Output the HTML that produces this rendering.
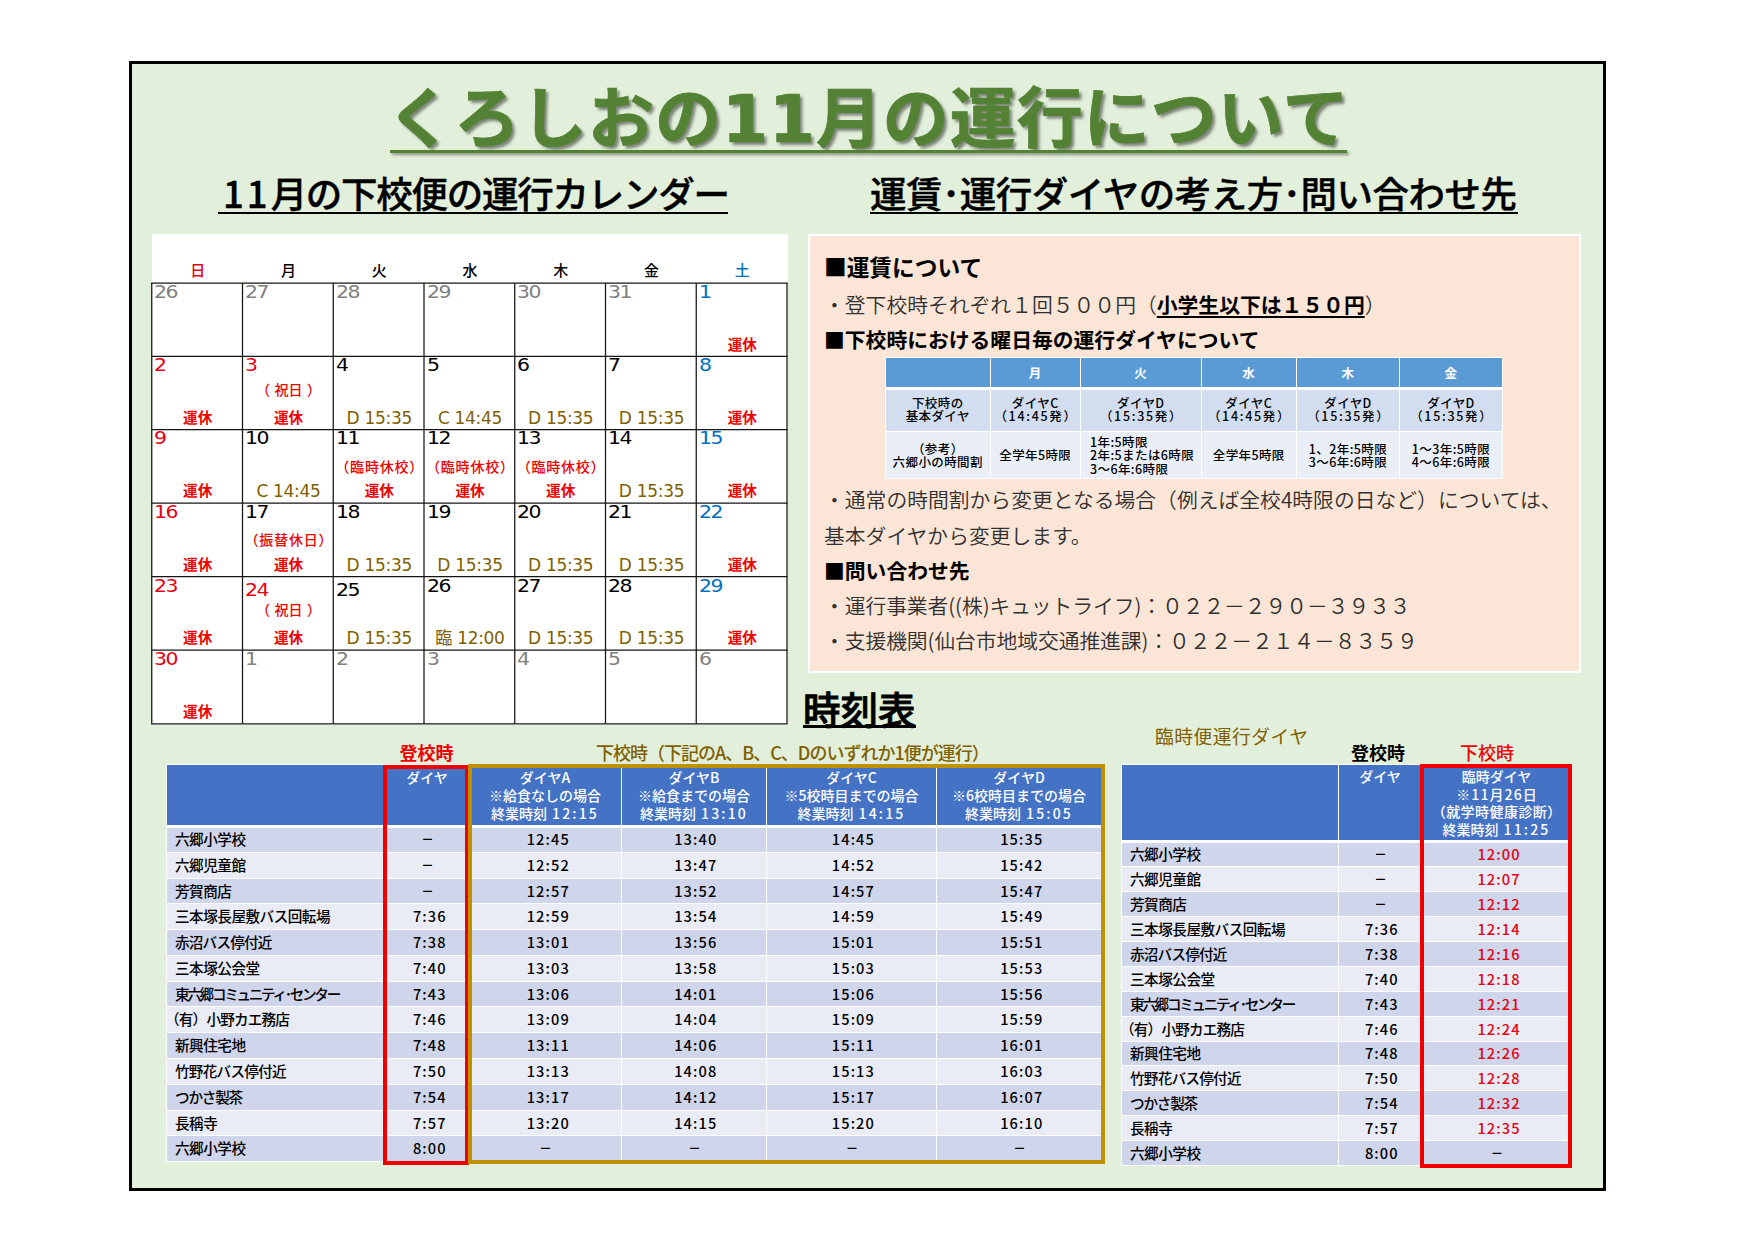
<!DOCTYPE html>
<html lang="ja"><head><meta charset="utf-8"><title>くろしおの11月の運行について</title>
<style>
*{box-sizing:border-box;margin:0;padding:0}
html,body{width:1754px;height:1240px;background:#fff;overflow:hidden}
body{position:relative;font-family:"Noto Sans CJK JP","Liberation Sans",sans-serif;color:#000}
.abs{position:absolute;white-space:nowrap}
#frame{left:129px;top:61px;width:1477px;height:1130px;border:3px solid #000;background:#E2EFDA}
#title{left:387px;top:75px;width:957px;height:90px;text-align:center;font-family:"DejaVu Sans","Noto Sans CJK JP",sans-serif;font-weight:700;font-size:66px;line-height:90px;color:#548235;-webkit-text-stroke:.7px #548235;text-shadow:3px 3px 3px rgba(0,0,0,.45);letter-spacing:1px}
#title-ul{left:390px;top:150px;width:957px;height:3px;background:#548235;box-shadow:2px 2px 3px rgba(0,0,0,.4)}
.sub{font-weight:500;-webkit-text-stroke:.4px #000;font-size:36.5px;line-height:43px;border-bottom:2px solid #000;text-align:left;overflow:hidden}
.sub .d{letter-spacing:3px;margin-left:4px}
#sub1{left:218px;top:171px;width:510px;height:43px;padding-left:1px}
#sub2{left:870px;top:171px;width:648px;height:43px}
#jikoku{left:803px;top:686px;width:113px;height:42px;font-weight:500;-webkit-text-stroke:.85px #000;font-size:37.5px;line-height:44px;border-bottom:3px solid #000}
/* calendar */
#cal{left:152px;top:234px;width:635.5px;height:490.5px;background:#fff}
#grid{left:140px;top:270px}
.wd{top:260px;width:91px;text-align:center;font-size:15px;line-height:20px;font-weight:500}
.dn{font-family:"DejaVu Sans","Liberation Sans",sans-serif;font-size:17px;line-height:17px;letter-spacing:-1.2px;transform:scaleX(1.2);transform-origin:0 0}
.uk{font-weight:700;font-size:14.6px;line-height:18px;color:#f00000;width:91px;text-align:center}
.nt{font-weight:500;font-size:14px;line-height:18px;color:#f00000;width:111px;text-align:center}
.nt i{font-style:normal;margin:0 4.5px}
.nt.s{letter-spacing:.8px;padding-left:.8px}
.dy{font-family:"DejaVu Sans","Noto Sans CJK JP",sans-serif;font-size:17px;line-height:18px;color:#7F6000;width:91px;text-align:center;letter-spacing:-.3px}
.red{color:#e60012}.blue{color:#0070C0}.gray{color:#808080}
/* panel */
#panel{left:808px;top:234px;width:773px;height:439px;background:#FBE5D6;border:2px solid #fff}
.ph{font-weight:700;font-size:20.8px;line-height:30px;left:824px;color:#000}
.pb{font-weight:350;font-size:20.8px;line-height:30px;left:824px;color:#303030}
.pb b{font-weight:700;color:#000;text-decoration:underline;text-decoration-thickness:1.5px;text-underline-offset:3px}
table{border-collapse:collapse;table-layout:fixed}
#t0{left:885px;top:357px;width:618px}
#t0 td{border:1px solid #fff;text-align:center;font-size:12.5px;line-height:13.5px;font-weight:500;padding:0;white-space:nowrap;letter-spacing:.4px}
#t0 tr.h td{background:#5B9BD5;color:#fff;height:31px;border-bottom:3px solid #fff;font-weight:700}
#t0 tr.a td{background:#D2DEEF;height:43px;padding-bottom:3px}
#t0 tr.b td{background:#EAEFF7;height:47px}
#t0 td.l{text-align:left;padding-left:9px}
#t0 .w{letter-spacing:1.7px;margin-left:1.7px}
.tt td{border:1px solid #fff;text-align:center;font-size:14.6px;font-weight:500;padding:0;white-space:nowrap;overflow:hidden}
.tt tr.h td{background:#4472C4;color:#fff;vertical-align:top;border-bottom:3px solid #fff;padding-top:2px;font-size:14px;letter-spacing:0}
.tt tr.h td span{letter-spacing:2.2px;margin-left:5px}
.tt tr.o td{background:#CFD5EA}
.tt tr.e td{background:#E9EBF5}
.tt td.n{text-align:left;padding-left:8px;letter-spacing:-.5px}
.tt td.t{font-size:14.6px;letter-spacing:1.1px}
.tt td.t.d{font-size:12.5px;font-weight:700;letter-spacing:0;padding-left:1px!important}
#t1{left:166px;top:764px;width:935px}
#t1 tr.h td{height:62px;line-height:18.2px;padding-top:3px}
#t1 tr.o td,#t1 tr.e td{height:25.79px;line-height:22px;padding-bottom:.8px}
#t1 td.t:nth-child(2){padding-left:5.5px}#t1 td.t:nth-child(3){padding-left:6.5px}#t1 td.t:nth-child(4){padding-left:3.5px}#t1 td.t:nth-child(5){padding-left:3.8px}#t1 td.t:nth-child(6){padding-left:5.5px}
#t2{left:1121px;top:764px;width:450px}
#t2 tr.h td{height:77px;line-height:17.5px;padding-top:3px}
#t2 tr.o td,#t2 tr.e td{height:24.95px;line-height:22px;padding-bottom:0}
#t2 td.t:nth-child(2){padding-left:3.5px}#t2 td.t:nth-child(3){padding-left:5px}
#t2 td.r{color:#e60012}
.lab{font-size:18px;line-height:24px;font-weight:700;text-align:center}
.box{border-style:solid;border-width:4px}
</style></head><body>
<div id="frame" class="abs"></div>
<div id="title" class="abs"><span id="tt">くろしおの11月の運行について</span></div>
<div id="title-ul" class="abs"></div>
<div id="sub1" class="abs sub"><span class="d">11</span><span id="s1" style="letter-spacing:-1.25px">月の下校便の運行カレンダー</span></div>
<div id="sub2" class="abs sub"><span id="s2" style="letter-spacing:-.5px">運賃･運行ダイヤの考え方･問い合わせ先</span></div>
<div id="cal" class="abs"></div>
<svg id="grid" class="abs" width="660" height="470" viewBox="140 270 660 470"><g stroke="#151515" stroke-width="1.25" fill="none"><path d="M151.15 283.00H787.60"/><path d="M151.15 356.25H787.60"/><path d="M151.15 429.60H787.60"/><path d="M151.15 503.15H787.60"/><path d="M151.15 576.70H787.60"/><path d="M151.15 650.20H787.60"/><path d="M151.15 723.75H787.60"/><path d="M151.75 283.00V723.75"/><path d="M242.50 283.00V723.75"/><path d="M333.25 283.00V723.75"/><path d="M424.00 283.00V723.75"/><path d="M514.75 283.00V723.75"/><path d="M605.50 283.00V723.75"/><path d="M696.25 283.00V723.75"/><path d="M787.00 283.00V723.75"/></g></svg>
<div class="abs wd red" style="left:152.2px">日</div>
<div class="abs wd " style="left:243.0px">月</div>
<div class="abs wd " style="left:333.8px">火</div>
<div class="abs wd " style="left:424.5px">水</div>
<div class="abs wd " style="left:515.2px">木</div>
<div class="abs wd " style="left:606.0px">金</div>
<div class="abs wd blue" style="left:696.8px">土</div>
<div class="abs dn gray" style="left:154.3px;top:283.8px">26</div>
<div class="abs dn gray" style="left:245.1px;top:283.8px">27</div>
<div class="abs dn gray" style="left:335.9px;top:283.8px">28</div>
<div class="abs dn gray" style="left:426.6px;top:283.8px">29</div>
<div class="abs dn gray" style="left:517.4px;top:283.8px">30</div>
<div class="abs dn gray" style="left:608.1px;top:283.8px">31</div>
<div class="abs dn blue" style="left:698.9px;top:283.8px">1</div>
<div class="abs uk" style="left:696.8px;top:334.5px">運休</div>
<div class="abs dn red" style="left:154.3px;top:357.1px">2</div>
<div class="abs uk" style="left:152.2px;top:407.8px">運休</div>
<div class="abs dn red" style="left:245.1px;top:357.1px">3</div>
<div class="abs nt" style="left:233.0px;top:379.8px">（<i>祝日</i>）</div>
<div class="abs uk" style="left:243.0px;top:407.8px">運休</div>
<div class="abs dn " style="left:335.9px;top:357.1px">4</div>
<div class="abs dy" style="left:333.8px;top:408.8px">D 15:35</div>
<div class="abs dn " style="left:426.6px;top:357.1px">5</div>
<div class="abs dy" style="left:424.5px;top:408.8px">C 14:45</div>
<div class="abs dn " style="left:517.4px;top:357.1px">6</div>
<div class="abs dy" style="left:515.2px;top:408.8px">D 15:35</div>
<div class="abs dn " style="left:608.1px;top:357.1px">7</div>
<div class="abs dy" style="left:606.0px;top:408.8px">D 15:35</div>
<div class="abs dn blue" style="left:698.9px;top:357.1px">8</div>
<div class="abs uk" style="left:696.8px;top:407.8px">運休</div>
<div class="abs dn red" style="left:154.3px;top:430.4px">9</div>
<div class="abs uk" style="left:152.2px;top:481.1px">運休</div>
<div class="abs dn " style="left:245.1px;top:430.4px">10</div>
<div class="abs dy" style="left:243.0px;top:482.1px">C 14:45</div>
<div class="abs dn " style="left:335.9px;top:430.4px">11</div>
<div class="abs nt s" style="left:323.8px;top:456.6px">（臨時休校）</div>
<div class="abs uk" style="left:333.8px;top:481.1px">運休</div>
<div class="abs dn " style="left:426.6px;top:430.4px">12</div>
<div class="abs nt s" style="left:414.5px;top:456.6px">（臨時休校）</div>
<div class="abs uk" style="left:424.5px;top:481.1px">運休</div>
<div class="abs dn " style="left:517.4px;top:430.4px">13</div>
<div class="abs nt s" style="left:505.2px;top:456.6px">（臨時休校）</div>
<div class="abs uk" style="left:515.2px;top:481.1px">運休</div>
<div class="abs dn " style="left:608.1px;top:430.4px">14</div>
<div class="abs dy" style="left:606.0px;top:482.1px">D 15:35</div>
<div class="abs dn blue" style="left:698.9px;top:430.4px">15</div>
<div class="abs uk" style="left:696.8px;top:481.1px">運休</div>
<div class="abs dn red" style="left:154.3px;top:503.9px">16</div>
<div class="abs uk" style="left:152.2px;top:554.6px">運休</div>
<div class="abs dn " style="left:245.1px;top:503.9px">17</div>
<div class="abs nt s" style="left:233.0px;top:530.1px">（振替休日）</div>
<div class="abs uk" style="left:243.0px;top:554.6px">運休</div>
<div class="abs dn " style="left:335.9px;top:503.9px">18</div>
<div class="abs dy" style="left:333.8px;top:555.6px">D 15:35</div>
<div class="abs dn " style="left:426.6px;top:503.9px">19</div>
<div class="abs dy" style="left:424.5px;top:555.6px">D 15:35</div>
<div class="abs dn " style="left:517.4px;top:503.9px">20</div>
<div class="abs dy" style="left:515.2px;top:555.6px">D 15:35</div>
<div class="abs dn " style="left:608.1px;top:503.9px">21</div>
<div class="abs dy" style="left:606.0px;top:555.6px">D 15:35</div>
<div class="abs dn blue" style="left:698.9px;top:503.9px">22</div>
<div class="abs uk" style="left:696.8px;top:554.6px">運休</div>
<div class="abs dn red" style="left:154.3px;top:577.5px">23</div>
<div class="abs uk" style="left:152.2px;top:628.2px">運休</div>
<div class="abs dn red" style="left:245.1px;top:581.5px">24</div>
<div class="abs nt" style="left:233.0px;top:600.2px">（<i>祝日</i>）</div>
<div class="abs uk" style="left:243.0px;top:628.2px">運休</div>
<div class="abs dn " style="left:335.9px;top:581.5px">25</div>
<div class="abs dy" style="left:333.8px;top:629.2px">D 15:35</div>
<div class="abs dn " style="left:426.6px;top:577.5px">26</div>
<div class="abs dy" style="left:424.5px;top:629.2px">臨 12:00</div>
<div class="abs dn " style="left:517.4px;top:577.5px">27</div>
<div class="abs dy" style="left:515.2px;top:629.2px">D 15:35</div>
<div class="abs dn " style="left:608.1px;top:577.5px">28</div>
<div class="abs dy" style="left:606.0px;top:629.2px">D 15:35</div>
<div class="abs dn blue" style="left:698.9px;top:577.5px">29</div>
<div class="abs uk" style="left:696.8px;top:628.2px">運休</div>
<div class="abs dn red" style="left:154.3px;top:651.0px">30</div>
<div class="abs uk" style="left:152.2px;top:701.7px">運休</div>
<div class="abs dn gray" style="left:245.1px;top:651.0px">1</div>
<div class="abs dn gray" style="left:335.9px;top:651.0px">2</div>
<div class="abs dn gray" style="left:426.6px;top:651.0px">3</div>
<div class="abs dn gray" style="left:517.4px;top:651.0px">4</div>
<div class="abs dn gray" style="left:608.1px;top:651.0px">5</div>
<div class="abs dn gray" style="left:698.9px;top:651.0px">6</div>
<div id="panel" class="abs"></div>
<div class="abs ph" style="top:252px;font-size:22.7px">■運賃について</div>
<div class="abs pb" style="top:289px">・登下校時それぞれ１回５００円（<b>小学生以下は１５０円</b>）</div>
<div class="abs ph" style="top:324px">■下校時における曜日毎の運行ダイヤについて</div>
<table id="t0" class="abs"><colgroup><col style="width:104.5px"><col style="width:90.5px"><col style="width:120.5px"><col style="width:95.5px"><col style="width:103px"><col style="width:103px"></colgroup>
<tr class="h"><td></td><td>月</td><td>火</td><td>水</td><td>木</td><td>金</td></tr>
<tr class="a"><td>下校時の<br>基本ダイヤ</td><td>ダイヤC<br><span class="w">（14:45発）</span></td><td>ダイヤD<br><span class="w">（15:35発）</span></td><td>ダイヤC<br><span class="w">（14:45発）</span></td><td>ダイヤD<br><span class="w">（15:35発）</span></td><td>ダイヤD<br><span class="w">（15:35発）</span></td></tr>
<tr class="b"><td>（参考）<br>六郷小の時間割</td><td>全学年5時限</td><td class="l">1年:5時限<br>2年:5または6時限<br>3～6年:6時限</td><td>全学年5時限</td><td>1、2年:5時限<br>3～6年:6時限</td><td>1～3年:5時限<br>4～6年:6時限</td></tr>
</table>
<div class="abs pb" style="top:484px">・通常の時間割から変更となる場合（例えば全校4時限の日など）については、</div>
<div class="abs pb" style="top:520px">基本ダイヤから変更します。</div>
<div class="abs ph" style="top:555px">■問い合わせ先</div>
<div class="abs pb" style="top:590px;letter-spacing:-.08px">・運行事業者((株)キュットライフ)：０２２－２９０－３９３３</div>
<div class="abs pb" style="top:625px;letter-spacing:-.08px">・支援機関(仙台市地域交通推進課)：０２２－２１４－８３５９</div>
<div id="jikoku" class="abs">時刻表</div>
<div class="abs lab" style="left:385px;top:740px;width:83px;color:#f00000"><span id="l1">登校時</span></div>
<div class="abs lab" style="left:596px;top:740px;color:#7F6000;font-weight:500;letter-spacing:-1px"><span id="l2">下校時（下記のA、B、C、Dのいずれか1便が運行）</span></div>
<table id="t1" class="abs tt"><colgroup><col style="width:219px"><col style="width:83px"><col style="width:153px"><col style="width:145px"><col style="width:170px"><col style="width:165px"></colgroup>
<tr class="h"><td></td><td>ダイヤ</td><td>ダイヤA<br>※給食なしの場合<br>終業時刻<span>12:15</span></td><td>ダイヤB<br>※給食までの場合<br>終業時刻<span>13:10</span></td><td>ダイヤC<br>※5校時目までの場合<br>終業時刻<span>14:15</span></td><td>ダイヤD<br>※6校時目までの場合<br>終業時刻<span>15:05</span></td></tr>
<tr class="o"><td class="n">六郷小学校</td><td class="t d">－</td><td class="t">12:45</td><td class="t">13:40</td><td class="t">14:45</td><td class="t">15:35</td></tr>
<tr class="e"><td class="n">六郷児童館</td><td class="t d">－</td><td class="t">12:52</td><td class="t">13:47</td><td class="t">14:52</td><td class="t">15:42</td></tr>
<tr class="o"><td class="n">芳賀商店</td><td class="t d">－</td><td class="t">12:57</td><td class="t">13:52</td><td class="t">14:57</td><td class="t">15:47</td></tr>
<tr class="e"><td class="n">三本塚長屋敷バス回転場</td><td class="t">7:36</td><td class="t">12:59</td><td class="t">13:54</td><td class="t">14:59</td><td class="t">15:49</td></tr>
<tr class="o"><td class="n" style="letter-spacing:-0.8px">赤沼バス停付近</td><td class="t">7:38</td><td class="t">13:01</td><td class="t">13:56</td><td class="t">15:01</td><td class="t">15:51</td></tr>
<tr class="e"><td class="n">三本塚公会堂</td><td class="t">7:40</td><td class="t">13:03</td><td class="t">13:58</td><td class="t">15:03</td><td class="t">15:53</td></tr>
<tr class="o"><td class="n" style="letter-spacing:-2.3px">東六郷コミュニティ･センター</td><td class="t">7:43</td><td class="t">13:06</td><td class="t">14:01</td><td class="t">15:06</td><td class="t">15:56</td></tr>
<tr class="e"><td class="n" style="text-indent:-10px;letter-spacing:-.8px">（有）小野カエ務店</td><td class="t">7:46</td><td class="t">13:09</td><td class="t">14:04</td><td class="t">15:09</td><td class="t">15:59</td></tr>
<tr class="o"><td class="n">新興住宅地</td><td class="t">7:48</td><td class="t">13:11</td><td class="t">14:06</td><td class="t">15:11</td><td class="t">16:01</td></tr>
<tr class="e"><td class="n" style="letter-spacing:-0.75px">竹野花バス停付近</td><td class="t">7:50</td><td class="t">13:13</td><td class="t">14:08</td><td class="t">15:13</td><td class="t">16:03</td></tr>
<tr class="o"><td class="n" style="letter-spacing:-1.2px">つかさ製茶</td><td class="t">7:54</td><td class="t">13:17</td><td class="t">14:12</td><td class="t">15:17</td><td class="t">16:07</td></tr>
<tr class="e"><td class="n">長稱寺</td><td class="t">7:57</td><td class="t">13:20</td><td class="t">14:15</td><td class="t">15:20</td><td class="t">16:10</td></tr>
<tr class="o"><td class="n">六郷小学校</td><td class="t">8:00</td><td class="t d">－</td><td class="t d">－</td><td class="t d">－</td><td class="t d">－</td></tr>
</table>
<div class="abs box" style="left:383px;top:765px;width:85.5px;height:399.5px;border-color:#f00000"></div>
<div class="abs box" style="left:468px;top:764px;width:637px;height:400px;border-color:#BF9000"></div>
<div class="abs" style="left:1155px;top:724px;font-size:18.75px;line-height:24px;color:#7F6000;font-weight:400;letter-spacing:.5px"><span id="l3">臨時便運行ダイヤ</span></div>
<div class="abs lab" style="left:1338px;top:740px;width:80px"><span id="l4">登校時</span></div>
<div class="abs lab" style="left:1421px;top:740px;width:132px;color:#f00000;font-weight:500"><span id="l5">下校時</span></div>
<table id="t2" class="abs tt"><colgroup><col style="width:217px"><col style="width:83px"><col style="width:150px"></colgroup>
<tr class="h"><td></td><td>ダイヤ</td><td>臨時ダイヤ<br><span style="letter-spacing:1.1px;margin-left:1.1px">※11月26日</span><br><span style="letter-spacing:.45px;margin-left:.45px">（就学時健康診断）</span><br>終業時刻<span>11:25</span></td></tr>
<tr class="o"><td class="n">六郷小学校</td><td class="t d">－</td><td class="t r">12:00</td></tr>
<tr class="e"><td class="n">六郷児童館</td><td class="t d">－</td><td class="t r">12:07</td></tr>
<tr class="o"><td class="n">芳賀商店</td><td class="t d">－</td><td class="t r">12:12</td></tr>
<tr class="e"><td class="n">三本塚長屋敷バス回転場</td><td class="t">7:36</td><td class="t r">12:14</td></tr>
<tr class="o"><td class="n" style="letter-spacing:-0.8px">赤沼バス停付近</td><td class="t">7:38</td><td class="t r">12:16</td></tr>
<tr class="e"><td class="n">三本塚公会堂</td><td class="t">7:40</td><td class="t r">12:18</td></tr>
<tr class="o"><td class="n" style="letter-spacing:-2.3px">東六郷コミュニティ･センター</td><td class="t">7:43</td><td class="t r">12:21</td></tr>
<tr class="e"><td class="n" style="text-indent:-10px;letter-spacing:-.8px">（有）小野カエ務店</td><td class="t">7:46</td><td class="t r">12:24</td></tr>
<tr class="o"><td class="n">新興住宅地</td><td class="t">7:48</td><td class="t r">12:26</td></tr>
<tr class="e"><td class="n" style="letter-spacing:-0.75px">竹野花バス停付近</td><td class="t">7:50</td><td class="t r">12:28</td></tr>
<tr class="o"><td class="n" style="letter-spacing:-1.2px">つかさ製茶</td><td class="t">7:54</td><td class="t r">12:32</td></tr>
<tr class="e"><td class="n">長稱寺</td><td class="t">7:57</td><td class="t r">12:35</td></tr>
<tr class="o"><td class="n">六郷小学校</td><td class="t">8:00</td><td class="t d">－</td></tr>
</table>
<div class="abs box" style="left:1420px;top:764px;width:151.5px;height:404px;border-color:#f00000"></div>
</body></html>
